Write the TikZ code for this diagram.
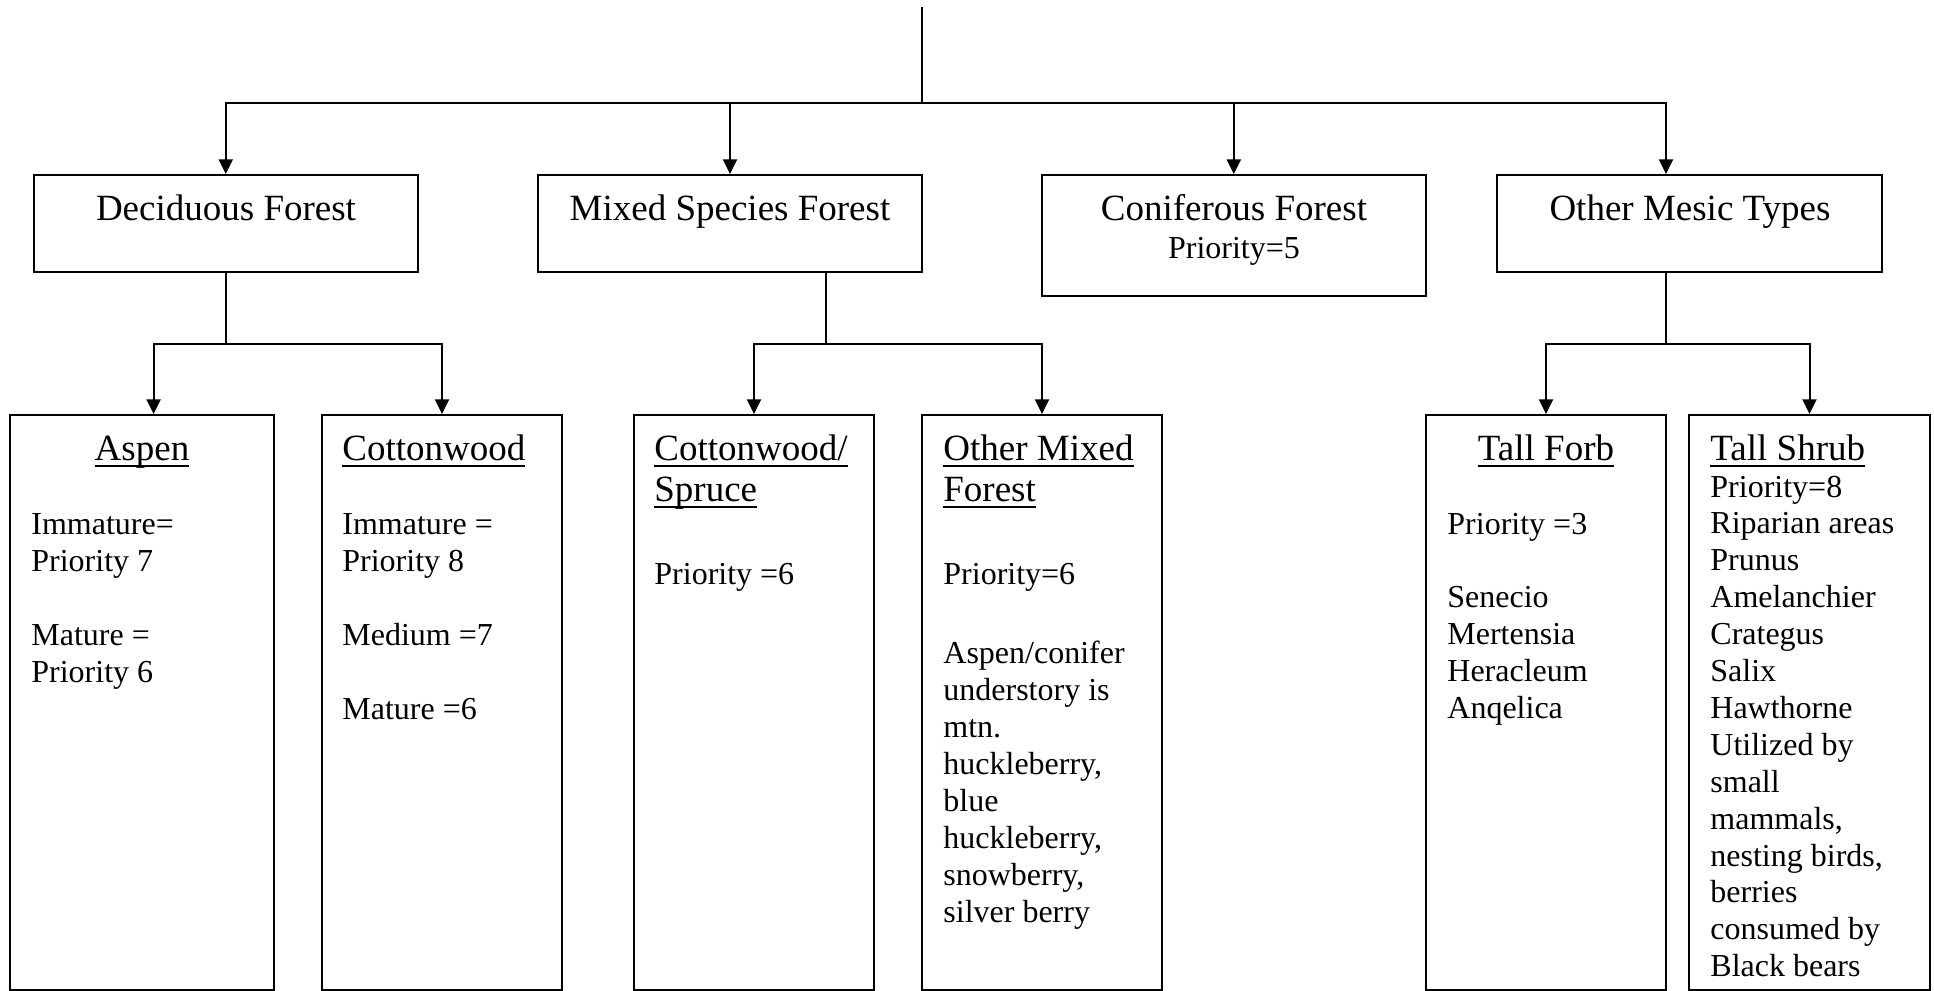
\documentclass[tikz,border=0pt]{standalone}
\usepackage{fontspec}
\setmainfont{Liberation Serif}
\usetikzlibrary{arrows.meta,fit,calc}
\newsavebox\ulbox
\newcommand\hul[1]{\sbox\ulbox{#1}\rlap{\rule[-3.25pt]{\wd\ulbox}{1pt}}\usebox\ulbox}
\begin{document}
\begin{tikzpicture}[x=0.5pt,y=-0.5pt,
  box/.style={draw,line width=1pt,inner sep=0pt},
  conn/.style={line width=1pt},
  arr/.style={conn,-{Triangle[length=7.3pt,width=7pt]}},
  head/.style={inner sep=0pt,font=\fontsize{18.5}{21}\selectfont},
  body/.style={inner sep=0pt,anchor=base west,font=\fontsize{16}{18.45}\selectfont}]
\useasboundingbox (0,0) rectangle (1934,991);

% boxes
\node[box,fit={(34,175)(417.5,272)}] (dec) {};
\node[box,fit={(538,175)(922,272)}] (mix) {};
\node[box,fit={(1041.6,175)(1426,295.6)}] (con) {};
\node[box,fit={(1497.4,175)(1881.6,272)}] (mes) {};
\node[box,fit={(10,415)(274,990)}] (asp) {};
\node[box,fit={(322,415)(562,990)}] (cot) {};
\node[box,fit={(634,415)(874,990)}] (cs) {};
\node[box,fit={(922,415)(1162,990)}] (om) {};
\node[box,fit={(1426,415)(1666,990)}] (tf) {};
\node[box,fit={(1689,415)(1930,990)}] (ts) {};

% top texts
\node[head,anchor=base] (decT) at (226,220.7) {Deciduous Forest};
\node[head,anchor=base] (mixT) at (730,220.7) {Mixed Species Forest};
\node[head,anchor=base] (conT) at (1234,220) {Coniferous Forest};
\node[body,anchor=base] (conP) at (1234,258) {Priority=5};
\node[head,anchor=base] (mesT) at (1690,220.7) {Other Mesic Types};

% connectors
\coordinate (root) at (922,7);
\coordinate (bus) at (922,103.3);
\draw[conn] (root) -- (bus);
\draw[arr] (bus) -| (dec.north);
\draw[arr] (bus) -| (mix.north);
\draw[arr] (bus) -| (con.north);
\draw[arr] (bus) -| ([xshift=-11.75pt]mes.north);

\draw[conn] (dec.south) -- ++(0,71) coordinate (decbus);
\draw[arr] (decbus) -| ([xshift=5.8pt]asp.north);
\draw[arr] (decbus) -| (cot.north);
\draw[conn] ([xshift=48pt]mix.south) -- ++(0,71) coordinate (mixbus);
\draw[arr] (mixbus) -| (cs.north);
\draw[arr] (mixbus) -| (om.north);
\draw[conn] ([xshift=-11.75pt]mes.south) -- ++(0,71) coordinate (mesbus);
\draw[arr] (mesbus) -| (tf.north);
\draw[arr] (mesbus) -| (ts.north);

% bottom headings
\node[head,anchor=base] (aspT) at (142,460) {\hul{Aspen}};
\node[head,anchor=base west] (cotT) at (342,460) {\hul{Cottonwood}};
\node[head,anchor=base west] (csT1) at (654,460) {\hul{Cottonwood/}};
\node[head,anchor=base west] (csT2) at (654,501) {\hul{Spruce}};
\node[head,anchor=base west] (omT1) at (943,460) {\hul{Other Mixed}};
\node[head,anchor=base west] (omT2) at (943,501) {\hul{Forest}};
\node[head,anchor=base] (tfT) at (1546,460) {\hul{Tall Forb}};
\node[head,anchor=base west] (tsT) at (1710,460) {\hul{Tall Shrub}};

% Aspen
\node[body] (asp1) at (31,534) {Immature=};
\node[body] (asp2) at (31,571) {Priority 7};
\node[body] (asp3) at (31,645) {Mature =};
\node[body] (asp4) at (31,682) {Priority 6};
% Cottonwood
\node[body] (cot1) at (342,534) {Immature =};
\node[body] (cot2) at (342,571) {Priority 8};
\node[body] (cot3) at (342,645) {Medium =7};
\node[body] (cot4) at (342,719) {Mature =6};
% Cottonwood/Spruce
\node[body] (cs1) at (654,584) {Priority =6};
% Other Mixed Forest
\node[body] (omP) at (943,584) {Priority=6};
\foreach \txt [count=\i from 0] in {Aspen/conifer, understory is, mtn., {huckleberry,}, blue, {huckleberry,}, {snowberry,}, silver berry}
  \node[body] (omb\i) at (943,{663+37*\i}) {\txt};
% Tall Forb
\node[body] (tf1) at (1447,534) {Priority =3};
\foreach \txt [count=\i from 0] in {Senecio, Mertensia, Heracleum, Anqelica}
  \node[body] (tfb\i) at (1447,{607+37*\i}) {\txt};
% Tall Shrub
\foreach \txt [count=\i from 0] in {Priority=8, Riparian areas, Prunus, Amelanchier, Crategus, Salix, Hawthorne, Utilized by, small, {mammals,}, {nesting birds,}, berries, consumed by, Black bears}
  \node[body] (tsb\i) at (1710,{497+36.9*\i}) {\txt};
\end{tikzpicture}
\end{document}
